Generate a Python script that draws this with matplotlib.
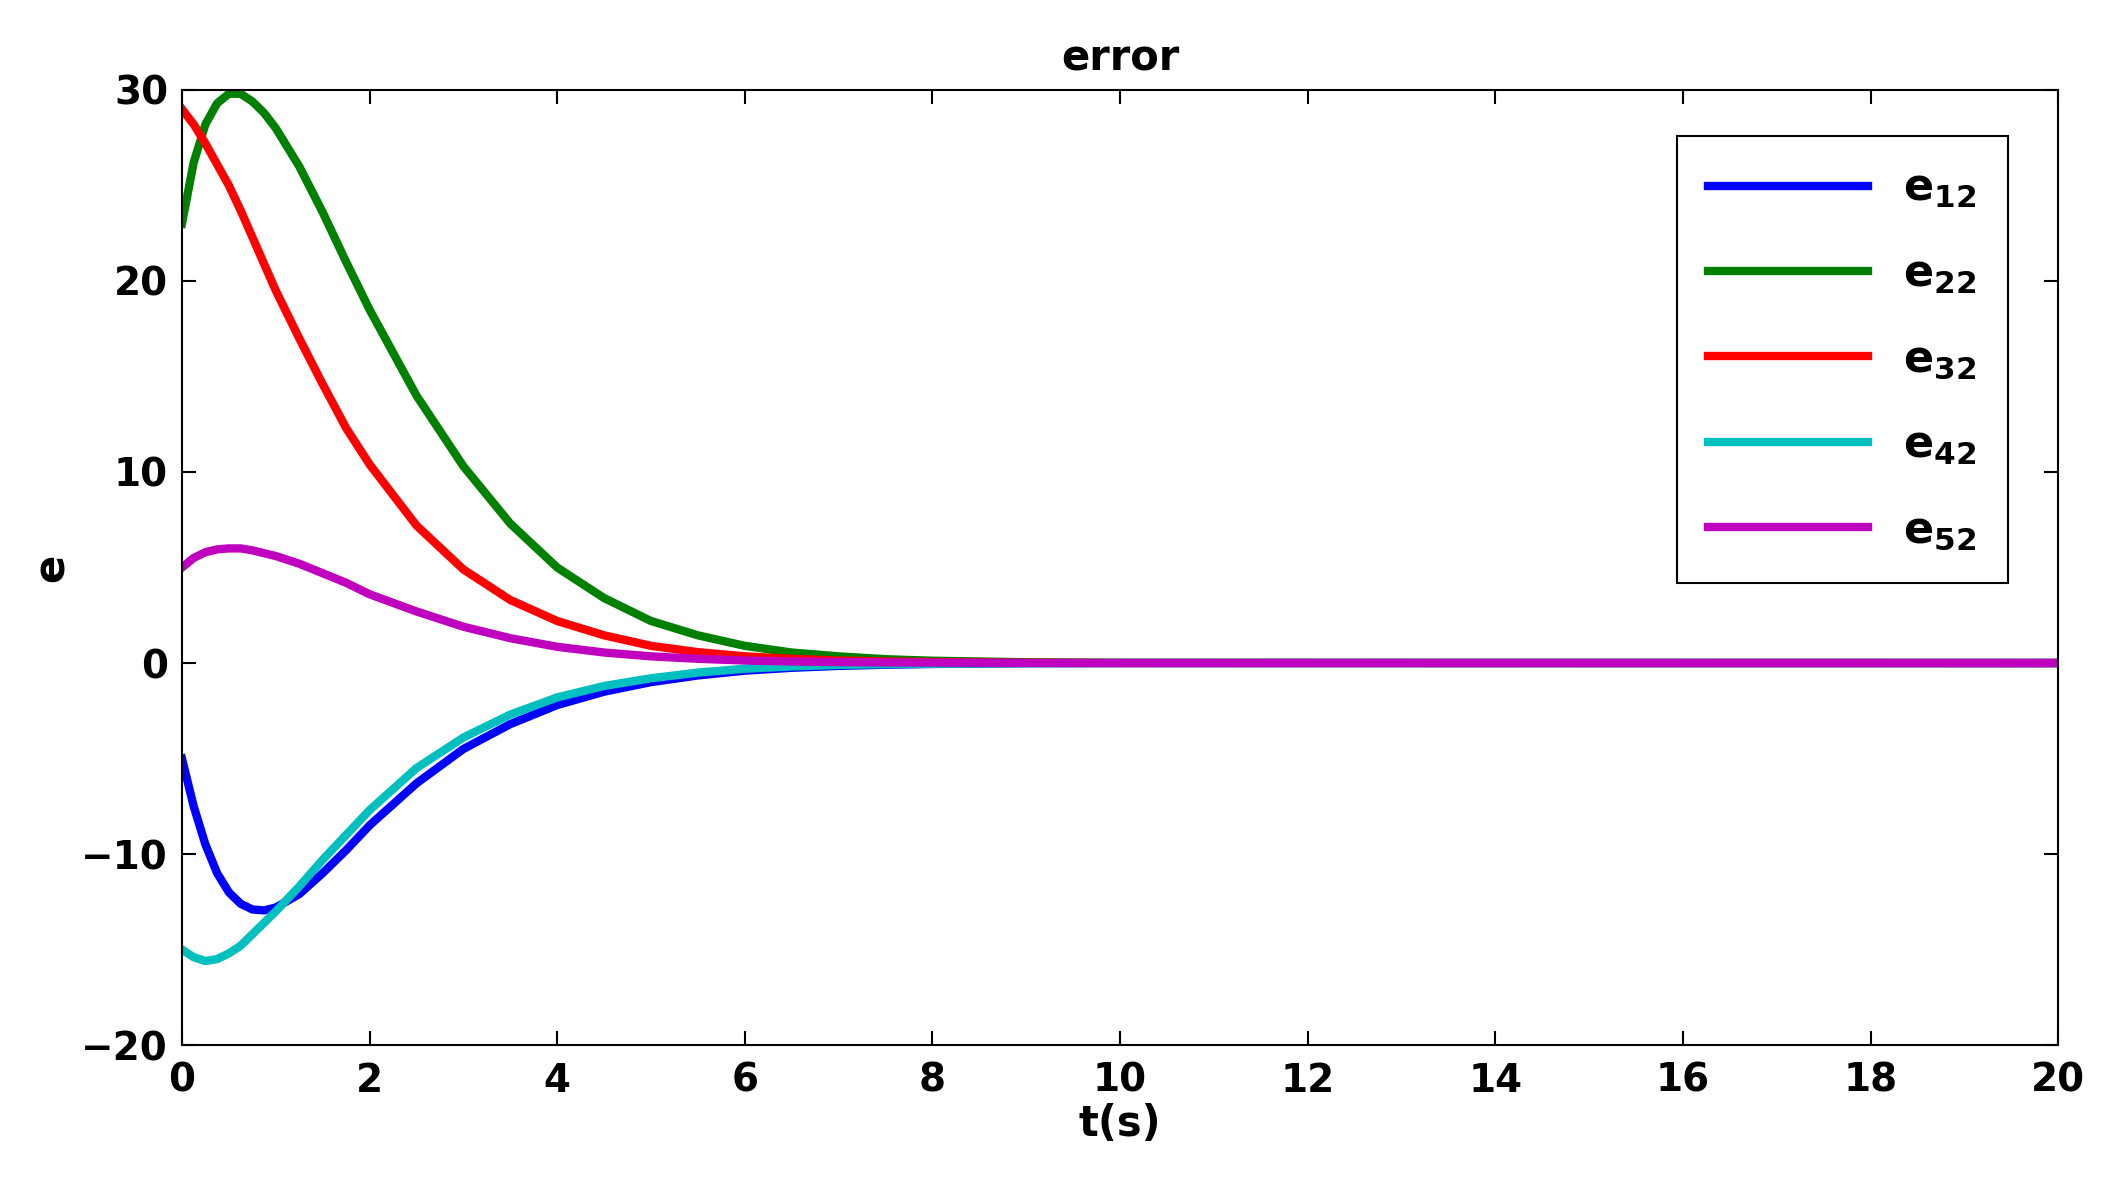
import matplotlib.pyplot as plt
import numpy as np

t = [0, 0.125, 0.25, 0.375, 0.5, 0.625, 0.75, 0.875, 1.0, 1.25, 1.5, 1.75, 2.0,
     2.5, 3.0, 3.5, 4.0, 4.5, 5.0, 5.5, 6.0, 6.5, 7.0, 7.5, 8.0, 9.0, 10.0, 20.0]
e12 = [-5, -7.5, -9.5, -11, -12, -12.6, -12.9, -12.95, -12.8, -12.1, -11, -9.8, -8.5,
       -6.3, -4.5, -3.2, -2.2, -1.5, -1.0, -0.65, -0.4, -0.25, -0.15, -0.09, -0.05, -0.01, 0, 0]
e22 = [23, 26.2, 28.2, 29.3, 29.8, 29.8, 29.4, 28.8, 28, 26, 23.6, 21, 18.5,
       14, 10.3, 7.3, 5, 3.4, 2.2, 1.45, 0.9, 0.55, 0.35, 0.2, 0.12, 0.04, 0.01, 0]
e32 = [29, 28.2, 27.2, 26.1, 25, 23.7, 22.3, 20.9, 19.5, 17, 14.6, 12.3, 10.4,
       7.2, 4.9, 3.3, 2.2, 1.45, 0.9, 0.57, 0.35, 0.22, 0.13, 0.08, 0.05, 0.01, 0, 0]
e42 = [-15, -15.4, -15.6, -15.5, -15.2, -14.8, -14.2, -13.6, -13, -11.7, -10.3, -9, -7.7,
       -5.5, -3.9, -2.7, -1.8, -1.2, -0.8, -0.5, -0.3, -0.18, -0.1, -0.06, -0.04, -0.01, 0, 0]
e52 = [5, 5.5, 5.8, 5.95, 6.0, 6.0, 5.9, 5.75, 5.6, 5.2, 4.7, 4.2, 3.6,
       2.7, 1.9, 1.3, 0.85, 0.55, 0.35, 0.22, 0.13, 0.08, 0.05, 0.03, 0.02, 0.005, 0, 0]

series = [(e12, '#0000ff', r'$\mathbf{e_{12}}$'),
          (e22, '#008000', r'$\mathbf{e_{22}}$'),
          (e32, '#ff0000', r'$\mathbf{e_{32}}$'),
          (e42, '#00bfbf', r'$\mathbf{e_{42}}$'),
          (e52, '#bf00bf', r'$\mathbf{e_{52}}$')]

plt.rcParams['font.weight'] = 'bold'
plt.rcParams['font.size'] = 20
plt.rcParams['mathtext.default'] = 'bf'

fig = plt.figure(figsize=(21.01, 11.93), dpi=100)
ax = fig.add_axes([0.0866, 0.124, 0.893, 0.8006])
for y, c, lab in series:
    ax.plot(t, y, color=c, lw=6, label=lab)

ax.set_xlim(0, 20)
ax.set_ylim(-20, 30)
ax.set_xticks(np.arange(0, 21, 2))
ax.set_yticks(np.arange(-20, 31, 10))
ax.set_yticklabels(['\u221220', '\u221210', '0', '10', '20', '30'])
ax.tick_params(direction='in', length=10, width=1.5, top=True, right=True, labelsize=28)
ax.tick_params(axis='x', pad=12)
ax.tick_params(axis='y', pad=10)
for s in ax.spines.values():
    s.set_linewidth(1.5)
ax.set_xlabel('t(s)', fontsize=30, fontweight='bold', labelpad=2)
ax.set_ylabel('e', fontsize=30, fontweight='bold', labelpad=6)
ax.set_title('error', fontsize=30, fontweight='bold', pad=14)
leg = ax.legend(loc='upper right', fontsize=32, fancybox=False, edgecolor='black',
                handlelength=3.6, labelspacing=0.95, borderpad=0.7, framealpha=1,
                bbox_to_anchor=(0.985, 0.975))
leg.get_frame().set_linewidth(1.5)

fig.savefig('out.png', dpi=100)
